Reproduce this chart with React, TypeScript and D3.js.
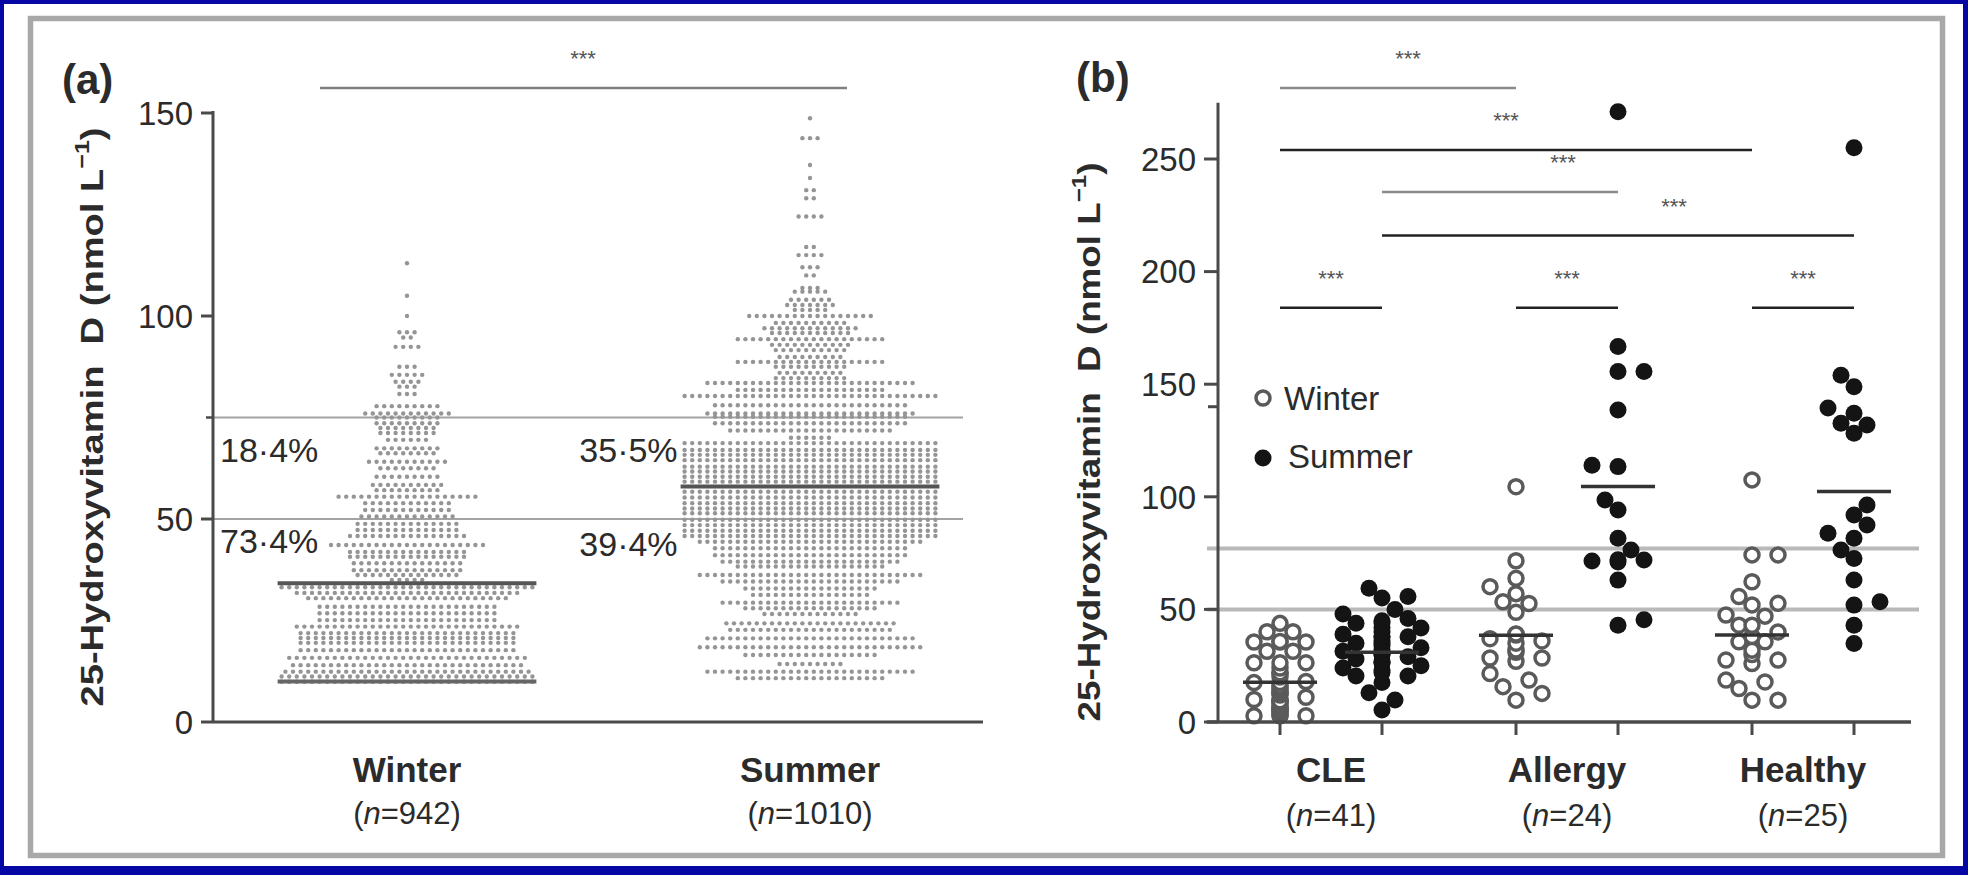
import React from 'react';
import * as d3 from 'd3';

const W = 1968;
const H = 875;
const FONT = '"Liberation Sans", Arial, Helvetica, sans-serif';
const INK = '#2b2b2b';

// ---- panel (a): beeswarm rows (row value, dots in row)
const winterRowValues = [113, 105, 100, 96, 94.7, 92.4, 87.5, 85.5, 83.8, 82.6, 80.8, 77.8, 76, 75, 73.6, 72.4, 71.2, 69.5, 67.4, 66.2, 64.1, 62.5, 60.4, 58.4, 57.1, 55.5, 53.9, 52.2, 50.6, 48.8, 47.3, 45.8, 43.6, 41.9, 40.7, 39.1, 37.4, 36.2, 35, 33.2, 31.8, 30.5, 28.4, 26.8, 25.1, 23.5, 21.9, 20.7, 19.5, 17.7, 15.8, 14, 12.4, 11.2, 9.9];
const winterRowCounts = [1, 1, 1, 3, 2, 4, 3, 5, 4, 3, 3, 9, 12, 9, 9, 8, 8, 6, 9, 8, 11, 8, 9, 10, 9, 19, 12, 12, 13, 14, 14, 16, 21, 16, 16, 15, 15, 14, 5, 34, 30, 27, 24, 24, 24, 30, 29, 29, 29, 29, 32, 31, 33, 34, 34];
const summerRowValues = [148.7, 143.8, 137.2, 134, 131, 129, 124.5, 117, 115, 112, 110, 106.9, 106, 104, 102.7, 101.5, 100, 98.3, 97, 95.8, 94.3, 92.9, 91.6, 89.9, 88.7, 87.5, 86, 84.7, 83.5, 81.8, 80.3, 78, 76, 75.2, 73.6, 71.8, 70, 68.7, 67, 65.8, 64.5, 62.9, 61.7, 60.4, 59.2, 56.7, 55.3, 53.9, 52.6, 51.4, 49.8, 48.5, 47.1, 45.8, 44.4, 42.8, 41.1, 39.5, 38.3, 36.2, 34.6, 32.9, 31.3, 29.4, 28, 26.6, 24.3, 22.7, 20.6, 18.4, 16.5, 14.3, 12.4, 10.8];
const summerRowCounts = [1, 3, 1, 1, 2, 2, 4, 2, 4, 3, 2, 3, 5, 6, 7, 5, 17, 10, 13, 11, 20, 11, 10, 9, 20, 10, 9, 10, 28, 20, 34, 26, 28, 26, 26, 22, 6, 34, 34, 34, 34, 34, 34, 34, 34, 34, 34, 34, 34, 34, 34, 34, 34, 34, 30, 26, 26, 24, 20, 30, 24, 18, 16, 24, 18, 13, 23, 22, 28, 30, 18, 9, 28, 20];

const seasons = ['Winter', 'Summer'];
const seasonN = ['942', '1010'];
const seasonMedians = [34.2, 58];
const winterFloor = 10;
const cutoffsA = [75, 50];
const pctBetween = ['18·4%', '35·5%'];
const pctBelow = ['73·4%', '39·4%'];
const ticksA = [0, 50, 100, 150];
const minorTicksA = [75];

// ---- panel (b)
const groups = ['CLE', 'Allergy', 'Healthy'];
const groupN = ['41', '24', '25'];
const cleWinter = [43.8, 40.1, 40.1, 35.8, 35.5, 35.5, 35.5, 31.4, 31.4, 26.3, 26.3, 26.3, 21.9, 21.9, 17.5, 17.5, 13, 13, 9.4, 9.4, 9.4, 5.7, 5.7, 2.8, 2.8, 2.8, 20, 18, 16, 14, 12, 10, 8, 7, 6, 5, 4, 3, 15, 11, 24];
const cleSummer = [59.4, 55.7, 55.1, 50, 43.8, 45, 41.7, 37.9, 36, 35, 37.9, 32, 31, 31.4, 30, 26.3, 25, 26.3, 20.4, 20.4, 13, 17.5, 9.8, 5.3, 48, 46, 42, 40, 38, 34, 33, 29, 28, 27, 24, 23, 22, 30, 35, 39, 44];
const allergyWinter = [104.5, 71.6, 63.8, 60.1, 57, 53.4, 52.6, 48.7, 38.6, 39, 37, 39.1, 35, 32, 31, 28.4, 28.4, 27, 21.5, 18.6, 15.7, 12.7, 9.7, 36];
const allergySummer = [271, 166.7, 155.6, 155.6, 138.5, 114, 113.4, 98.6, 94.1, 81.6, 76.4, 72, 71, 71.9, 71.5, 63, 45.4, 43];
const healthyWinter = [107.5, 74.2, 74.2, 62.3, 55.7, 52.7, 52, 47.5, 47, 43, 43, 40, 35.6, 35.6, 31.9, 30, 27.5, 27.5, 26, 18.6, 17.8, 14.9, 9.7, 9.7, 38];
const healthySummer = [255, 154, 148.9, 139.4, 137.1, 132.7, 131.9, 128.2, 96.4, 91.9, 87.5, 83.8, 81.6, 76.4, 72.6, 63.1, 53.4, 51.9, 43, 34.9];
const winterSeries = [cleWinter, allergyWinter, healthyWinter];
const summerSeries = [cleSummer, allergySummer, healthySummer];
const winterMeans = [17.7, 38.5, 38.6];
const summerMeans = [31, 104.6, 102.3];
const ticksB = [0, 50, 100, 150, 200, 250];
const axisBreakB = 140;
const cutoffsB = [77, 50];
// [group, season, group, season, bar level, dark?]
const comparisons: [string, string, string, string, number, boolean][] = [
  ['CLE', 'Winter', 'Allergy', 'Winter', 281.5, false],
  ['CLE', 'Winter', 'Healthy', 'Winter', 254, true],
  ['CLE', 'Summer', 'Allergy', 'Summer', 235.3, false],
  ['CLE', 'Summer', 'Healthy', 'Summer', 216, true],
  ['CLE', 'Winter', 'CLE', 'Summer', 184, true],
  ['Allergy', 'Winter', 'Allergy', 'Summer', 184, true],
  ['Healthy', 'Winter', 'Healthy', 'Summer', 184, true],
];
const starShift = [10, -10, 63, 56, 0, 0, 0];

// greedy column swarm like GraphPad scatter
function swarm(values: number[], cx: number, y: (v: number) => number, maxK: number) {
  const step = 13;
  const minD = 15;
  const placed: { x: number; y: number }[] = [];
  [...values].sort((a, b) => a - b).forEach((v, i) => {
    const py = y(v);
    let px = cx;
    let found = false;
    for (let k = 0; k <= maxK && !found; k++) {
      const signs = k === 0 ? [0] : i % 2 ? [1, -1] : [-1, 1];
      for (const s of signs) {
        const tx = cx + s * k * step;
        if (placed.every((p) => Math.hypot(p.x - tx, p.y - py) >= minD)) {
          px = tx;
          found = true;
          break;
        }
      }
    }
    placed.push({ x: px, y: py });
  });
  return placed;
}

function YTitle({ x, y, len }: { x: number; y: number; len: number }) {
  return (
    <text transform={`translate(${x},${y}) rotate(-90)`} textAnchor="middle" fontFamily={FONT}
      fontWeight="bold" fontSize={32} fill={INK} textLength={len} lengthAdjust="spacingAndGlyphs">
      25-Hydroxyvitamin{'\u00a0\u00a0'}D (nmol L<tspan fontSize={21} dy={-14}>−1</tspan>
      <tspan dy={14}>)</tspan>
    </text>
  );
}

function Stars({ x, y }: { x: number; y: number }) {
  return (
    <text x={x} y={y} textAnchor="middle" fontFamily={FONT} fontSize={22} fill="#555">***</text>
  );
}

function PanelA() {
  const y = d3.scaleLinear().domain([0, 150]).range([722, 113]);
  const x = d3.scalePoint<string>().domain(seasons).range([407, 810]);
  const axisX = 213;
  const dx = 7.6;
  const rows = [
    { vals: winterRowValues, counts: winterRowCounts },
    { vals: summerRowValues, counts: summerRowCounts },
  ];
  const maxHalf = (d3.max(summerRowCounts)! - 1) / 2 * dx;
  return (
    <g>
      <text x={62} y={94} fontFamily={FONT} fontWeight="bold" fontSize={42} fill={INK}>(a)</text>
      {cutoffsA.map((c) => (
        <line key={c} x1={axisX} x2={963} y1={y(c)} y2={y(c)} stroke="#a3a3a3" strokeWidth={2} />
      ))}
      {rows.map((r, si) =>
        r.vals.map((v, ri) =>
          d3.range(r.counts[ri]).map((k) => (
            <circle key={`${si}-${ri}-${k}`} cx={x(seasons[si])! + (k - (r.counts[ri] - 1) / 2) * dx}
              cy={y(v)} r={2.2} fill="#959595" />
          ))
        )
      )}
      {seasons.map((s, i) => (
        <line key={s} x1={x(s)! - maxHalf - 4} x2={x(s)! + maxHalf + 4} y1={y(seasonMedians[i])}
          y2={y(seasonMedians[i])} stroke="#555" strokeWidth={4} />
      ))}
      <line x1={x('Winter')! - maxHalf - 4} x2={x('Winter')! + maxHalf + 4} y1={y(winterFloor)}
        y2={y(winterFloor)} stroke="#666" strokeWidth={4} />
      {/* axes */}
      <line x1={axisX} x2={axisX} y1={y(150) - 2} y2={y(0)} stroke="#4a4a4a" strokeWidth={3} />
      <line x1={axisX} x2={983} y1={y(0)} y2={y(0)} stroke="#4a4a4a" strokeWidth={3} />
      {ticksA.map((t) => (
        <g key={t}>
          <line x1={axisX - 12} x2={axisX} y1={y(t)} y2={y(t)} stroke="#4a4a4a" strokeWidth={3} />
          <text x={axisX - 20} y={y(t)} dy="0.36em" textAnchor="end" fontFamily={FONT} fontSize={33} fill={INK}>{t}</text>
        </g>
      ))}
      {minorTicksA.map((t) => (
        <line key={t} x1={axisX - 7} x2={axisX} y1={y(t)} y2={y(t)} stroke="#4a4a4a" strokeWidth={2.5} />
      ))}
      {/* percentages */}
      <text x={axisX + 7} y={y(75) + 44} fontFamily={FONT} fontSize={34} fill={INK}>{pctBetween[0]}</text>
      <text x={axisX + 7} y={y(50) + 34} fontFamily={FONT} fontSize={34} fill={INK}>{pctBelow[0]}</text>
      <text x={x('Summer')! - maxHalf - 7} y={y(75) + 44} textAnchor="end" fontFamily={FONT} fontSize={34} fill={INK}>{pctBetween[1]}</text>
      <text x={x('Summer')! - maxHalf - 7} y={y(50) + 37} textAnchor="end" fontFamily={FONT} fontSize={34} fill={INK}>{pctBelow[1]}</text>
      {/* significance */}
      <line x1={320} x2={847} y1={88} y2={88} stroke="#808080" strokeWidth={2.5} />
      <Stars x={583} y={66} />
      {seasons.map((s, i) => (
        <g key={s} fontFamily={FONT} fill={INK} textAnchor="middle">
          <text x={x(s)!} y={782} fontWeight="bold" fontSize={35}>{s}</text>
          <text x={x(s)!} y={824} fontSize={31}>(<tspan fontStyle="italic">n</tspan>={seasonN[i]})</text>
        </g>
      ))}
      <YTitle x={103} y={417} len={579} />
    </g>
  );
}

function PanelB() {
  const y = d3.scaleLinear().domain([0, 250]).range([722, 159]);
  const gx = d3.scalePoint<string>().domain(groups).range([1331, 1803]);
  const pos = (g: string, s: string) => gx(g)! + (s === 'Winter' ? -51 : 51);
  const axisX = 1218;
  return (
    <g>
      <text x={1076} y={92} fontFamily={FONT} fontWeight="bold" fontSize={42} fill={INK}>(b)</text>
      {cutoffsB.map((c) => (
        <line key={c} x1={1207} x2={1919} y1={y(c)} y2={y(c)} stroke="#b9b9b9" strokeWidth={4} />
      ))}
      {comparisons.map((c, i) => {
        const x1 = pos(c[0], c[1]);
        const x2 = pos(c[2], c[3]);
        return (
          <g key={i}>
            <line x1={x1} x2={x2} y1={y(c[4])} y2={y(c[4])} stroke={c[5] ? '#222' : '#8a8a8a'} strokeWidth={2.5} />
            <Stars x={(x1 + x2) / 2 + starShift[i]} y={y(c[4]) - 22} />
          </g>
        );
      })}
      {groups.map((g, gi) => {
        const xw = pos(g, 'Winter');
        const xs = pos(g, 'Summer');
        const pw = swarm(winterSeries[gi], xw, y, 2);
        const ps = swarm(summerSeries[gi], xs, y, gi === 0 ? 3 : 2);
        return (
          <g key={g}>
            {pw.map((p, i) => (
              <circle key={`w${i}`} cx={p.x} cy={p.y} r={7} fill="#fff" stroke="#5a5a5a" strokeWidth={3.5} />
            ))}
            {ps.map((p, i) => (
              <circle key={`s${i}`} cx={p.x} cy={p.y} r={8.5} fill="#141414" />
            ))}
            <line x1={xw - 37} x2={xw + 37} y1={y(winterMeans[gi])} y2={y(winterMeans[gi])} stroke="#333" strokeWidth={3.5} />
            <line x1={xs - 37} x2={xs + 37} y1={y(summerMeans[gi])} y2={y(summerMeans[gi])} stroke="#333" strokeWidth={3.5} />
          </g>
        );
      })}
      {/* axes */}
      <line x1={axisX} x2={axisX} y1={y(275)} y2={y(0)} stroke="#4a4a4a" strokeWidth={3} />
      <line x1={1207} x2={1911} y1={y(0)} y2={y(0)} stroke="#4a4a4a" strokeWidth={3.5} />
      {ticksB.map((t) => (
        <g key={t}>
          <line x1={axisX - 14} x2={axisX} y1={y(t)} y2={y(t)} stroke="#4a4a4a" strokeWidth={3} />
          <text x={axisX - 22} y={y(t)} dy="0.36em" textAnchor="end" fontFamily={FONT} fontSize={33} fill={INK}>{t}</text>
        </g>
      ))}
      <line x1={axisX - 10} x2={axisX} y1={y(axisBreakB)} y2={y(axisBreakB)} stroke="#4a4a4a" strokeWidth={3} />
      {groups.map((g) =>
        seasons.map((s) => (
          <line key={g + s} x1={pos(g, s)} x2={pos(g, s)} y1={y(0)} y2={y(0) + 13} stroke="#4a4a4a" strokeWidth={3} />
        ))
      )}
      {groups.map((g, i) => (
        <g key={g} fontFamily={FONT} fill={INK} textAnchor="middle">
          <text x={gx(g)!} y={782} fontWeight="bold" fontSize={35}>{g}</text>
          <text x={gx(g)!} y={826} fontSize={31}>(<tspan fontStyle="italic">n</tspan>={groupN[i]})</text>
        </g>
      ))}
      {/* legend */}
      <circle cx={1263} cy={398} r={7} fill="#fff" stroke="#5a5a5a" strokeWidth={3.5} />
      <text x={1284} y={410} fontFamily={FONT} fontSize={33} fill={INK}>Winter</text>
      <circle cx={1263} cy={458} r={8.5} fill="#141414" />
      <text x={1288} y={468} fontFamily={FONT} fontSize={33} fill={INK}>Summer</text>
      <YTitle x={1100} y={442} len={559} />
    </g>
  );
}

export default function App() {
  return (
    <svg width={W} height={H} style={{ position: 'absolute', left: 0, top: 0 }}>
      <rect x={0} y={0} width={W} height={H} fill="#0606a4" />
      <rect x={4} y={4} width={1959} height={862} fill="#fff" />
      <rect x={30.5} y={18.5} width={1912} height={837} fill="none" stroke="#a8a8a8" strokeWidth={5.5} />
      <PanelA />
      <PanelB />
    </svg>
  );
}
